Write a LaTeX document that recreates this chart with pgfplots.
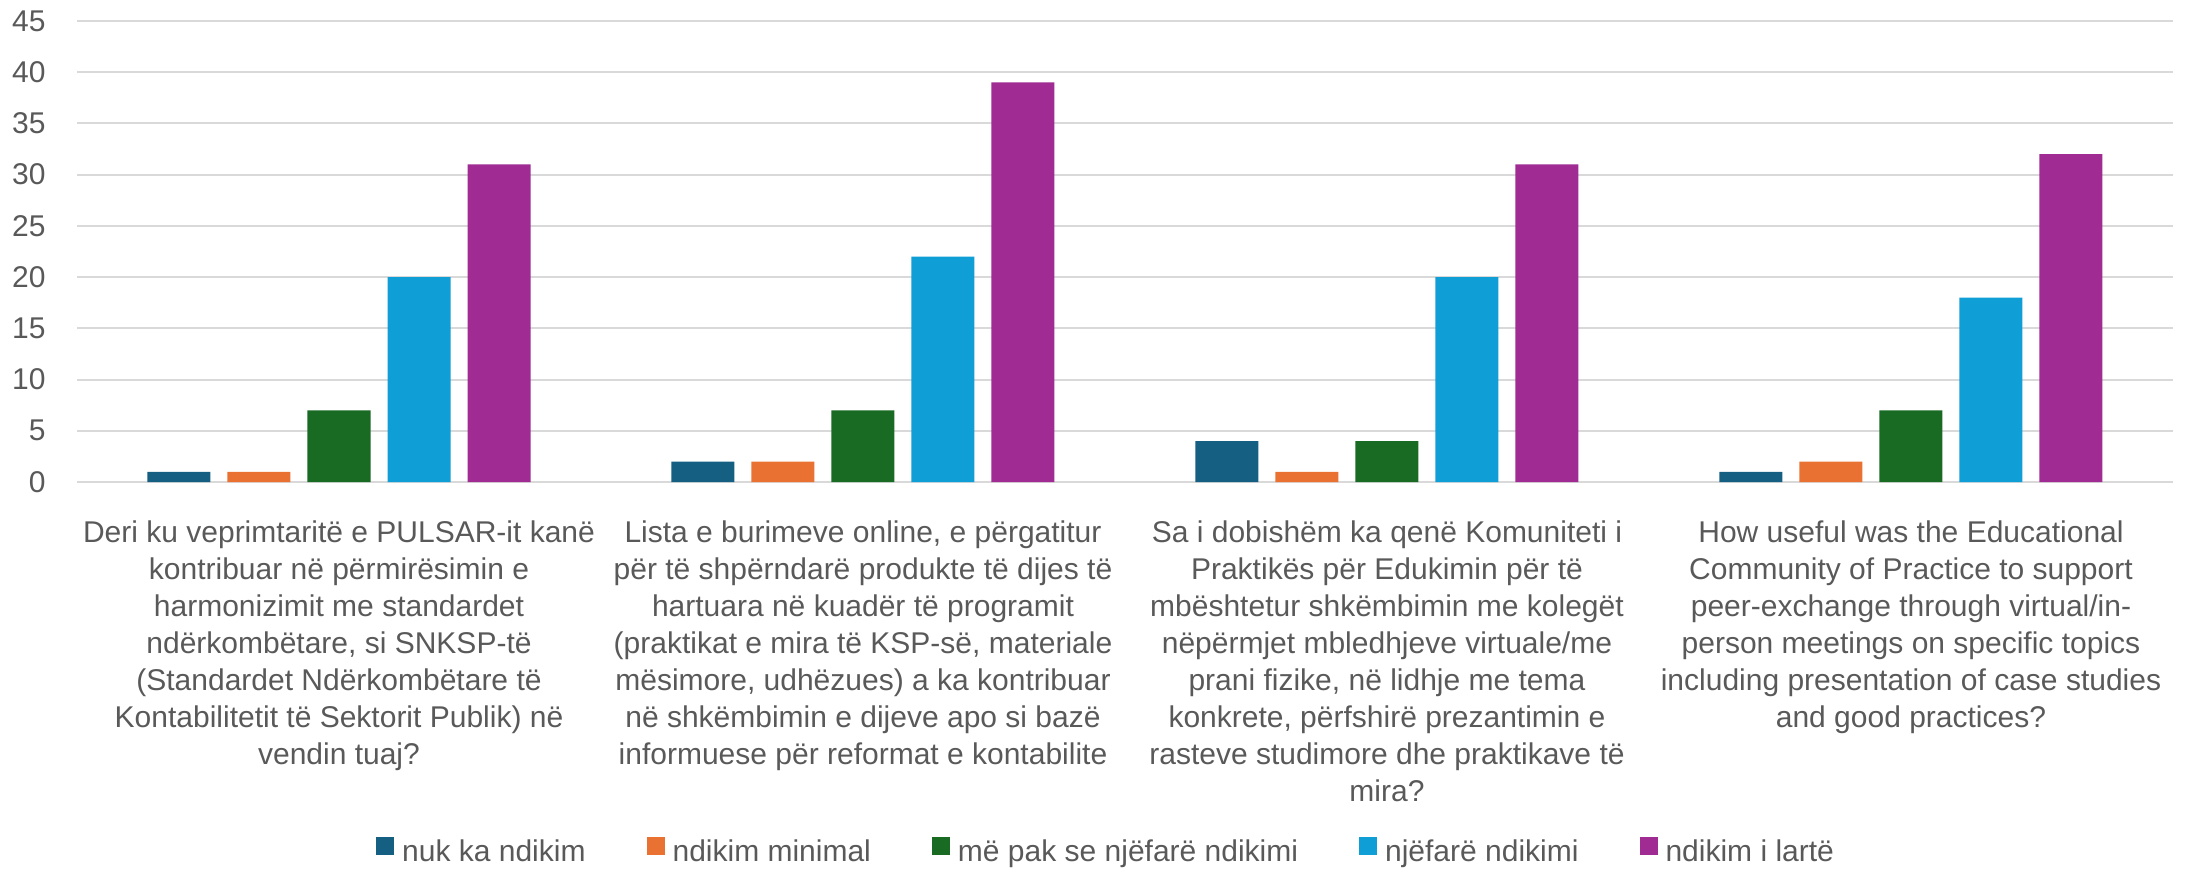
\documentclass[border=0pt]{standalone}
\usepackage{fontspec}
\setmainfont{Liberation Sans}
\usepackage{pgfplots}
\pgfplotsset{compat=1.18}
\definecolor{c1}{HTML}{156082}
\definecolor{c2}{HTML}{E97132}
\definecolor{c3}{HTML}{196B24}
\definecolor{c4}{HTML}{0F9ED5}
\definecolor{c5}{HTML}{A02B93}
\definecolor{txt}{HTML}{595959}
\definecolor{grd}{HTML}{D9D9D9}
\begin{document}
\begin{tikzpicture}
\useasboundingbox (0,0) rectangle (1096.5pt,437pt);
\begin{axis}[
 at={(38.5pt,196pt)}, anchor=south west,
 width=1048pt, height=230.5pt, scale only axis,
 xmin=-0.5, xmax=3.5, ymin=0, ymax=45,
 ytick={0,5,...,45},
 xtick={0,1,2,3},
 xticklabels={
  {Deri ku veprimtaritë e PULSAR-it kanë\\kontribuar në përmirësimin e\\harmonizimit me standardet\\ndërkombëtare, si SNKSP-të\\(Standardet Ndërkombëtare të\\Kontabilitetit të Sektorit Publik) në\\vendin tuaj?},
  {Lista e burimeve online, e përgatitur\\për të shpërndarë produkte të dijes të\\hartuara në kuadër të programit\\(praktikat e mira të KSP-së, materiale\\mësimore, udhëzues) a ka kontribuar\\në shkëmbimin e dijeve apo si bazë\\informuese për reformat e kontabilite},
  {Sa i dobishëm ka qenë Komuniteti i\\Praktikës për Edukimin për të\\mbështetur shkëmbimin me kolegët\\nëpërmjet mbledhjeve virtuale/me\\prani fizike, në lidhje me tema\\konkrete, përfshirë prezantimin e\\rasteve studimore dhe praktikave të\\mira?},
  {How useful was the Educational\\Community of Practice to support\\peer-exchange through virtual/in-\\person meetings on specific topics\\including presentation of case studies\\and good practices?}
 },
 ybar=8.5pt, bar width=31.5pt,
 ymajorgrids, grid style={draw=grd, line width=1pt},
 axis line style={draw=none},
 tick style={draw=none},
 /pgf/number format/assume math mode=true,
 yticklabel style={font=\fontsize{15}{18}\selectfont, text=txt, anchor=east, inner sep=0pt, xshift=-15.5pt},
 xticklabel style={font=\fontsize{15}{18.5}\selectfont, text=txt, align=center, anchor=north, inner sep=0pt, yshift=-15pt},
 legend columns=5,
 legend style={at={(0.4905,-0.8004)}, anchor=center, draw=none, fill=none, inner sep=0pt, outer sep=0pt,
   font=\fontsize{15}{18}\selectfont, text=txt, nodes={inner sep=0pt},
   /tikz/every odd column/.append style={column sep=4pt},
   /tikz/every even column/.append style={column sep=30.5pt}},
 legend image code/.code={\fill[#1] (0pt,-1.5pt) rectangle (9pt,7.5pt);},
]
\addplot[fill=c1, draw=none] coordinates {(0,1) (1,2) (2,4) (3,1)};
\addplot[fill=c2, draw=none] coordinates {(0,1) (1,2) (2,1) (3,2)};
\addplot[fill=c3, draw=none] coordinates {(0,7) (1,7) (2,4) (3,7)};
\addplot[fill=c4, draw=none] coordinates {(0,20) (1,22) (2,20) (3,18)};
\addplot[fill=c5, draw=none] coordinates {(0,31) (1,39) (2,31) (3,32)};
\legend{nuk ka ndikim, ndikim minimal, më pak se njëfarë ndikimi, njëfarë ndikimi, ndikim i lartë}
\end{axis}
\end{tikzpicture}
\end{document}
